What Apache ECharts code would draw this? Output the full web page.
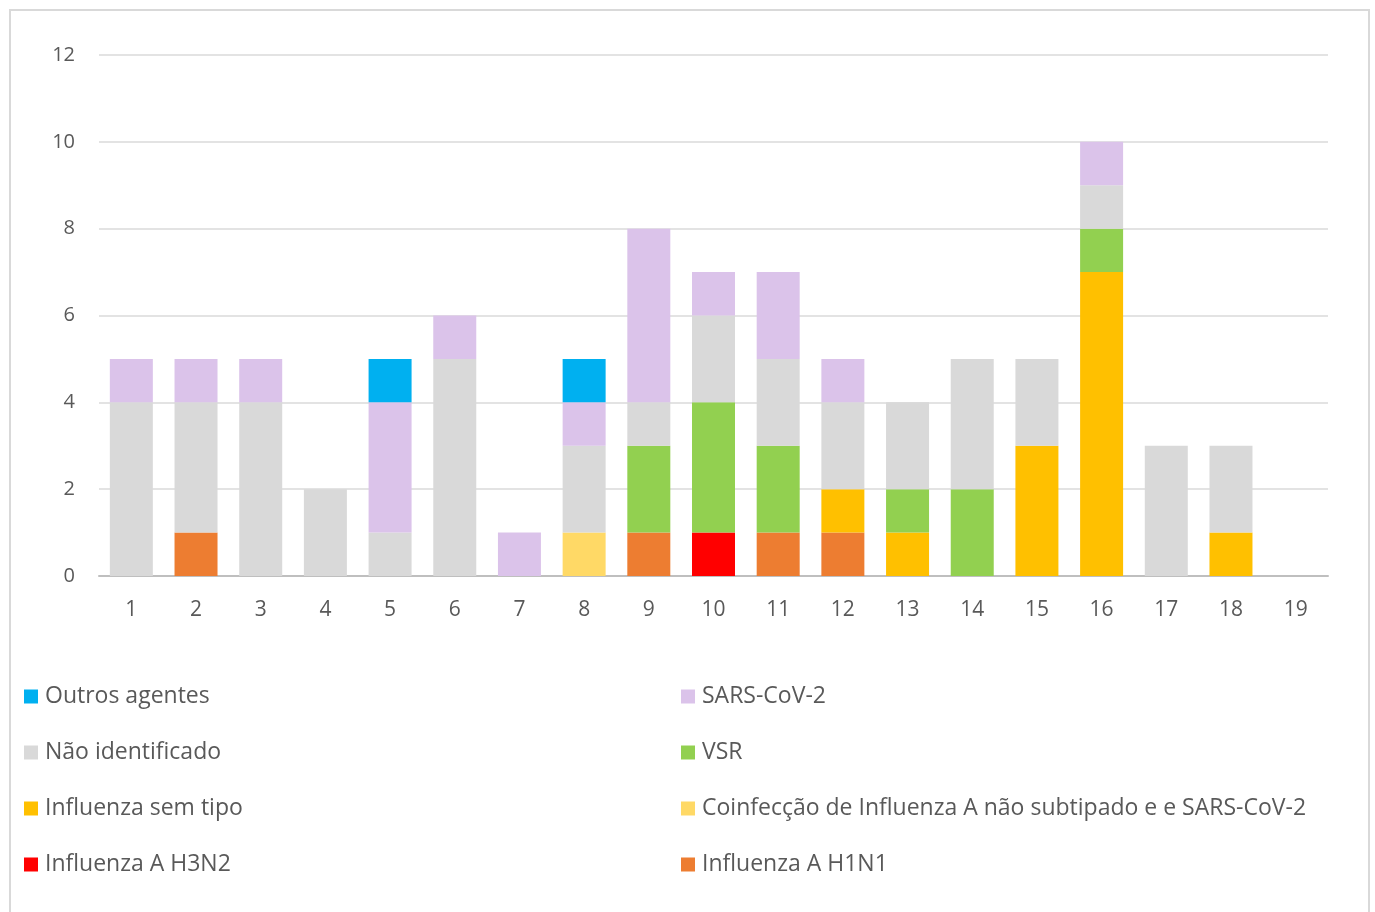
<!DOCTYPE html>
<html>
<head>
<meta charset="utf-8">
<script src="https://cdn.jsdelivr.net/npm/echarts@6/dist/echarts.min.js"></script>
<style>
html,body{margin:0;padding:0;background:#fff;overflow:hidden;}
#frame{position:absolute;left:9px;top:9px;width:1361px;height:960px;border:2px solid #d9d9d9;box-sizing:border-box;}
#chart{position:absolute;left:0;top:0;width:1375px;height:912px;}
</style>
</head>
<body>
<div id="frame"></div>
<div id="chart"></div>
<script>
const categories = ['1','2','3','4','5','6','7','8','9','10','11','12','13','14','15','16','17','18','19'];
const yTicks = [0, 2, 4, 6, 8, 10, 12];

const h1n1     = [0,1,0,0,0,0,0,0,1,0,1,1,0,0,0,0,0,0,0];
const h3n2     = [0,0,0,0,0,0,0,0,0,1,0,0,0,0,0,0,0,0,0];
const coinf    = [0,0,0,0,0,0,0,1,0,0,0,0,0,0,0,0,0,0,0];
const semTipo  = [0,0,0,0,0,0,0,0,0,0,0,1,1,0,3,7,0,1,0];
const vsr      = [0,0,0,0,0,0,0,0,2,3,2,0,1,2,0,1,0,0,0];
const naoIdent = [4,3,4,2,1,5,0,2,1,2,2,2,2,3,2,1,3,2,0];
const sars     = [1,1,1,0,3,1,1,1,4,1,2,1,0,0,0,1,0,0,0];
const outros   = [0,0,0,0,1,0,0,1,0,0,0,0,0,0,0,0,0,0,0];

const seriesDefs = [
  {name:'Influenza A H1N1', data:h1n1, color:'#ed7d31'},
  {name:'Influenza A H3N2', data:h3n2, color:'#ff0000'},
  {name:'Coinfecção de Influenza A não subtipado e e SARS-CoV-2', data:coinf, color:'#ffd966'},
  {name:'Influenza sem tipo', data:semTipo, color:'#ffc000'},
  {name:'VSR', data:vsr, color:'#92d050'},
  {name:'Não identificado', data:naoIdent, color:'#d9d9d9'},
  {name:'SARS-CoV-2', data:sars, color:'#dbc3ea'},
  {name:'Outros agentes', data:outros, color:'#00b0f0'}
];

const legendLeft = ['Outros agentes','Não identificado','Influenza sem tipo','Influenza A H3N2'];
const legendRight = ['SARS-CoV-2','VSR','Coinfecção de Influenza A não subtipado e e SARS-CoV-2','Influenza A H1N1'];

const txt = '#595959';
const font = 'Open Sans, Noto Sans, sans-serif';
const legendCommon = {
  orient:'vertical', top:685, padding:0, itemWidth:14, itemHeight:14, itemGap:33,
  icon:'rect', selectedMode:false,
  textStyle:{color:txt, fontSize:23, fontFamily:font, padding:[0,0,0,2]}
};

const chart = echarts.init(document.getElementById('chart'));
chart.setOption({
  animation:false,
  backgroundColor:'transparent',
  grid:{left:99, right:47, top:55, bottom:336, containLabel:false},
  legend:[
    Object.assign({left:24, data:legendLeft}, legendCommon),
    Object.assign({left:681, data:legendRight}, legendCommon)
  ],
  xAxis:{
    type:'category', data:categories,
    axisLine:{lineStyle:{color:'#bfbfbf', width:2}},
    axisTick:{show:false},
    axisLabel:{color:txt, fontSize:21, fontFamily:font, margin:24}
  },
  yAxis:{
    type:'value', min:yTicks[0], max:yTicks[yTicks.length-1], interval:2,
    axisLine:{show:false}, axisTick:{show:false},
    axisLabel:{color:txt, fontSize:20, fontFamily:font, margin:24, padding:[3,0,0,0]},
    splitLine:{lineStyle:{color:'#e3e3e3', width:2}}
  },
  series: seriesDefs.map(s => ({
    name:s.name, type:'bar', stack:'total', data:s.data, barWidth:43,
    itemStyle:{color:s.color}
  }))
});
</script>
</body>
</html>
